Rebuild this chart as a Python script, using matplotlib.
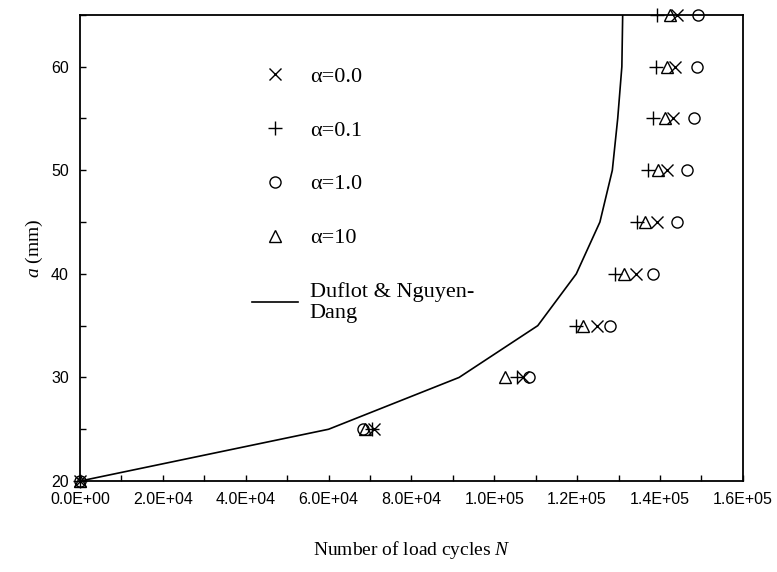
import numpy as np
import matplotlib.pyplot as plt
from matplotlib.ticker import MultipleLocator, FuncFormatter

# crack length a (mm)
a_vals = [20, 25, 30, 35, 40, 45, 50, 55, 60, 65]

# number of load cycles for each alpha
N_a00 = [0, 71000, 107000, 124900, 134100, 139400, 141800, 143200, 143700, 144200]
N_a01 = [0, 70500, 105600, 119800, 129200, 134500, 137200, 138400, 139100, 139400]
N_a10 = [0, 68400, 108500, 128000, 138200, 144200, 146600, 148100, 149000, 149300]
N_a100 = [0, 68800, 102700, 121300, 131200, 136500, 139600, 141100, 141800, 142500]

# reference solution
N_ref = [0, 60000, 91500, 110500, 119800, 125500, 128500, 129800, 130800, 131000]

serif = 'Liberation Serif'
sans = 'Liberation Sans'
plt.rcParams['mathtext.fontset'] = 'custom'
plt.rcParams['mathtext.it'] = 'Liberation Serif:italic'
plt.rcParams['mathtext.rm'] = 'Liberation Serif'

fig = plt.figure(figsize=(7.77, 5.72), dpi=100)
ax = fig.add_axes([0.103, 0.159, 0.853, 0.815])

ms = 9
ax.plot(N_a00, a_vals, 'x', color='black', ms=ms, mew=1.0, ls='none', label='α=0.0', clip_on=False)
ax.plot(N_a01, a_vals, '+', color='black', ms=ms+1, mew=1.0, ls='none', label='α=0.1', clip_on=False)
ax.plot(N_a10, a_vals, 'o', color='black', mfc='none', ms=ms-1, mew=1.0, ls='none', label='α=1.0', clip_on=False)
ax.plot(N_a100, a_vals, '^', color='black', mfc='none', ms=ms, mew=1.0, ls='none', label='α=10', clip_on=False)
ax.plot(N_ref, a_vals, '-', color='black', lw=1.2, label='Duflot & Nguyen-\nDang')

ax.set_xlim(0, 160000)
ax.set_ylim(20, 65)
ax.xaxis.set_major_locator(MultipleLocator(20000))
ax.xaxis.set_minor_locator(MultipleLocator(10000))
ax.yaxis.set_major_locator(MultipleLocator(10))
ax.yaxis.set_minor_locator(MultipleLocator(5))
ax.xaxis.set_major_formatter(FuncFormatter(lambda v, p: '%.1E' % v))
ax.tick_params(which='both', direction='in', length=4, width=1, labelsize=11.5, pad=8)
for lbl in ax.get_xticklabels() + ax.get_yticklabels():
    lbl.set_fontfamily(sans)
for s in ax.spines.values():
    s.set_linewidth(1.3)

ax.set_xlabel('Number of load cycles $N$', fontfamily=serif, fontsize=14, labelpad=23)
ax.set_ylabel('$a$ (mm)', fontfamily=serif, fontsize=14, labelpad=4)

leg = ax.legend(loc='upper left', bbox_to_anchor=(0.259, 0.89), frameon=False,
                prop={'family': serif, 'size': 16}, labelspacing=1.5,
                handlelength=2.07, handletextpad=0.54, borderpad=0, borderaxespad=0)

fig.savefig('out.png', dpi=100)
